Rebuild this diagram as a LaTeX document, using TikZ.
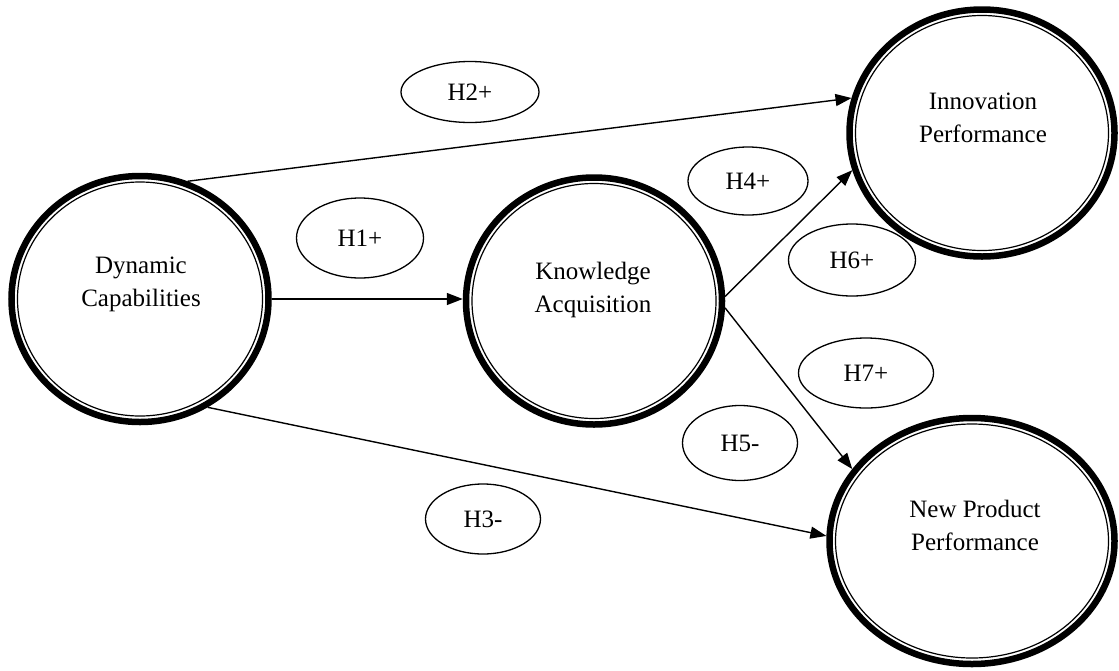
\documentclass[tikz,border=0pt]{standalone}
\usepackage{fontspec}
\setmainfont{Liberation Serif}
\usetikzlibrary{shapes.geometric,arrows.meta}
\begin{document}
\begin{tikzpicture}[x=1pt,y=-1pt,
  bigc/.style={ellipse,draw,line width=6.5pt,inner sep=0pt},
  innerc/.style={ellipse,draw,line width=1.2pt,inner sep=0pt},
  hyp/.style={ellipse,draw,line width=1.3pt,inner sep=0pt,font=\fontsize{25}{30}\selectfont},
  lbl/.style={align=center,inner sep=0pt,font=\fontsize{25}{33}\selectfont},
  arr/.style={line width=1.4pt,-{Triangle[length=16pt,width=12pt]}}]
\useasboundingbox (0,0) rectangle (1119,670);
% big constructs
\node[bigc,minimum width=257pt,minimum height=246pt] (dc) at (140,299) {};
\node[innerc,minimum width=245pt,minimum height=234pt] (dci) at (dc.center) {};
\node[lbl] (dct) at (141,284) {Dynamic\\Capabilities};

\node[bigc,minimum width=256pt,minimum height=247pt] (ka) at (594,301) {};
\node[innerc,minimum width=244pt,minimum height=235pt] (kai) at (ka.center) {};
\node[lbl] (kat) at (593,290) {Knowledge\\Acquisition};

\node[bigc,minimum width=265pt,minimum height=247pt] (ip) at (982,133) {};
\node[innerc,minimum width=253pt,minimum height=235pt] (ipi) at (ip.center) {};
\node[lbl] (ipt) at (983,118) {Innovation\\Performance};

\node[bigc,minimum width=285pt,minimum height=246pt] (npp) at (972,541) {};
\node[innerc,minimum width=273pt,minimum height=234pt] (nppi) at (npp.center) {};
\node[lbl] (nppt) at (975,525) {New Product\\Performance};

% hypothesis labels
\node[hyp,minimum width=138pt,minimum height=61pt] (h2) at (470,92) {H2+};
\node[hyp,minimum width=127pt,minimum height=80pt] (h1) at (360,238) {H1+};
\node[hyp,minimum width=120pt,minimum height=68pt] (h4) at (748,181) {H4+};
\node[hyp,minimum width=127pt,minimum height=72pt] (h6) at (852,260) {H6+};
\node[hyp,minimum width=135pt,minimum height=70pt] (h7) at (866,373) {H7+};
\node[hyp,minimum width=115pt,minimum height=75pt] (h5) at (740,443) {H5-};
\node[hyp,minimum width=115pt,minimum height=70pt] (h3) at (483,519) {H3-};

% connectors
\draw[arr] (dc.68) -- (ip.165);
\draw[arr] (dc.east) -- (dc.east -| ka.west);
\draw[arr] (dc.-58) -- (npp.178);
\draw[arr] (ka.2) -- (ip.196);
\draw[arr] (ka.-3) -- (npp.149);
\end{tikzpicture}
\end{document}
